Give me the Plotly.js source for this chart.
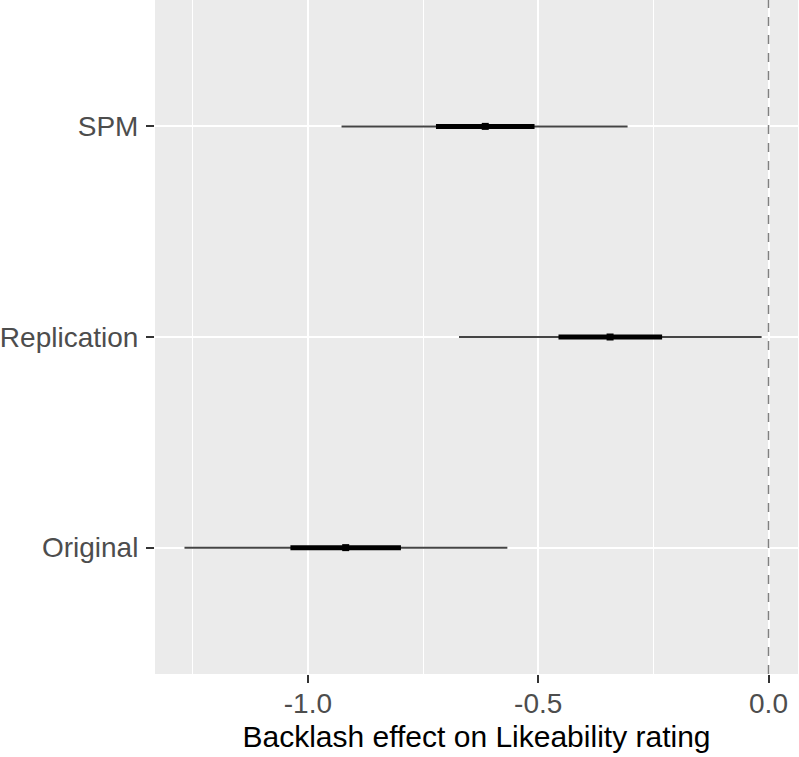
<!DOCTYPE html>
<html>
<head>
<meta charset="utf-8">
<script src="https://cdn.plot.ly/plotly-3.0.1.min.js"></script>
<style>
  html, body { margin: 0; padding: 0; background: #ffffff; }
  #chart { width: 799px; height: 757px; }
</style>
</head>
<body>
<div id="chart"></div>
<script>
// Data
const categories = ['Original', 'Replication', 'SPM'];
const estimate   = [-0.918, -0.344, -0.615];
const lower95    = [-1.268, -0.672, -0.927];
const upper95    = [-0.567, -0.015, -0.306];
const lower50    = [-1.038, -0.456, -0.722];
const upper50    = [-0.798, -0.231, -0.508];
const xTickVals  = [-1.0, -0.5, 0.0];
const xTickText  = ['-1.0', '-0.5', '0.0'];
const referenceX = 0;

const thin = {
  type: 'scatter', mode: 'markers',
  x: estimate, y: categories,
  marker: { size: 0.1, color: 'rgba(0,0,0,0)' },
  error_x: {
    type: 'data', symmetric: false,
    array: upper95.map((v, i) => v - estimate[i]),
    arrayminus: estimate.map((v, i) => v - lower95[i]),
    color: '#444444', thickness: 2, width: 0
  },
  hoverinfo: 'skip', showlegend: false
};
const thick = {
  type: 'scatter', mode: 'markers',
  x: estimate, y: categories,
  marker: { symbol: 'square', size: 7, color: '#000000' },
  error_x: {
    type: 'data', symmetric: false,
    array: upper50.map((v, i) => v - estimate[i]),
    arrayminus: estimate.map((v, i) => v - lower50[i]),
    color: '#000000', thickness: 5, width: 0
  },
  showlegend: false
};

const layout = {
  width: 799, height: 757,
  margin: { l: 155, r: 1, t: 0, b: 83 },
  paper_bgcolor: '#ffffff',
  plot_bgcolor: '#ebebeb',
  font: { family: '"Liberation Sans", Arial, Helvetica, sans-serif', color: '#4d4d4d' },
  showlegend: false,
  xaxis: {
    range: [-1.332, 0.064],
    tickvals: xTickVals, ticktext: xTickText,
    tickfont: { size: 28, color: '#4d4d4d' },
    ticks: 'outside', ticklen: 8, tickwidth: 2, tickcolor: '#333333',
    ticklabelstandoff: -4,
    showgrid: true, gridcolor: '#ffffff', gridwidth: 2,
    minor: { dtick: 0.25, tick0: 0, showgrid: true, gridcolor: '#ffffff', gridwidth: 1, ticks: '' },
    zeroline: false, showline: false,
    title: { text: 'Backlash effect on Likeability rating', font: { size: 30, color: '#000000' }, standoff: 8 }
  },
  yaxis: {
    type: 'category',
    categoryorder: 'array', categoryarray: categories,
    range: [-0.6, 2.6],
    tickfont: { size: 28, color: '#4d4d4d' },
    ticks: 'outside', ticklen: 8, tickwidth: 2, tickcolor: '#333333',
    ticklabelstandoff: 2,
    showgrid: true, gridcolor: '#ffffff', gridwidth: 2,
    zeroline: false, showline: false
  },
  shapes: [{
    type: 'line', xref: 'x', yref: 'paper',
    x0: referenceX, x1: referenceX, y0: 0, y1: 1,
    line: { color: '#808080', width: 1.5, dash: 'dash' }
  }]
};

Plotly.newPlot('chart', [thin, thick], layout, { displayModeBar: false, staticPlot: true });
</script>
</body>
</html>
